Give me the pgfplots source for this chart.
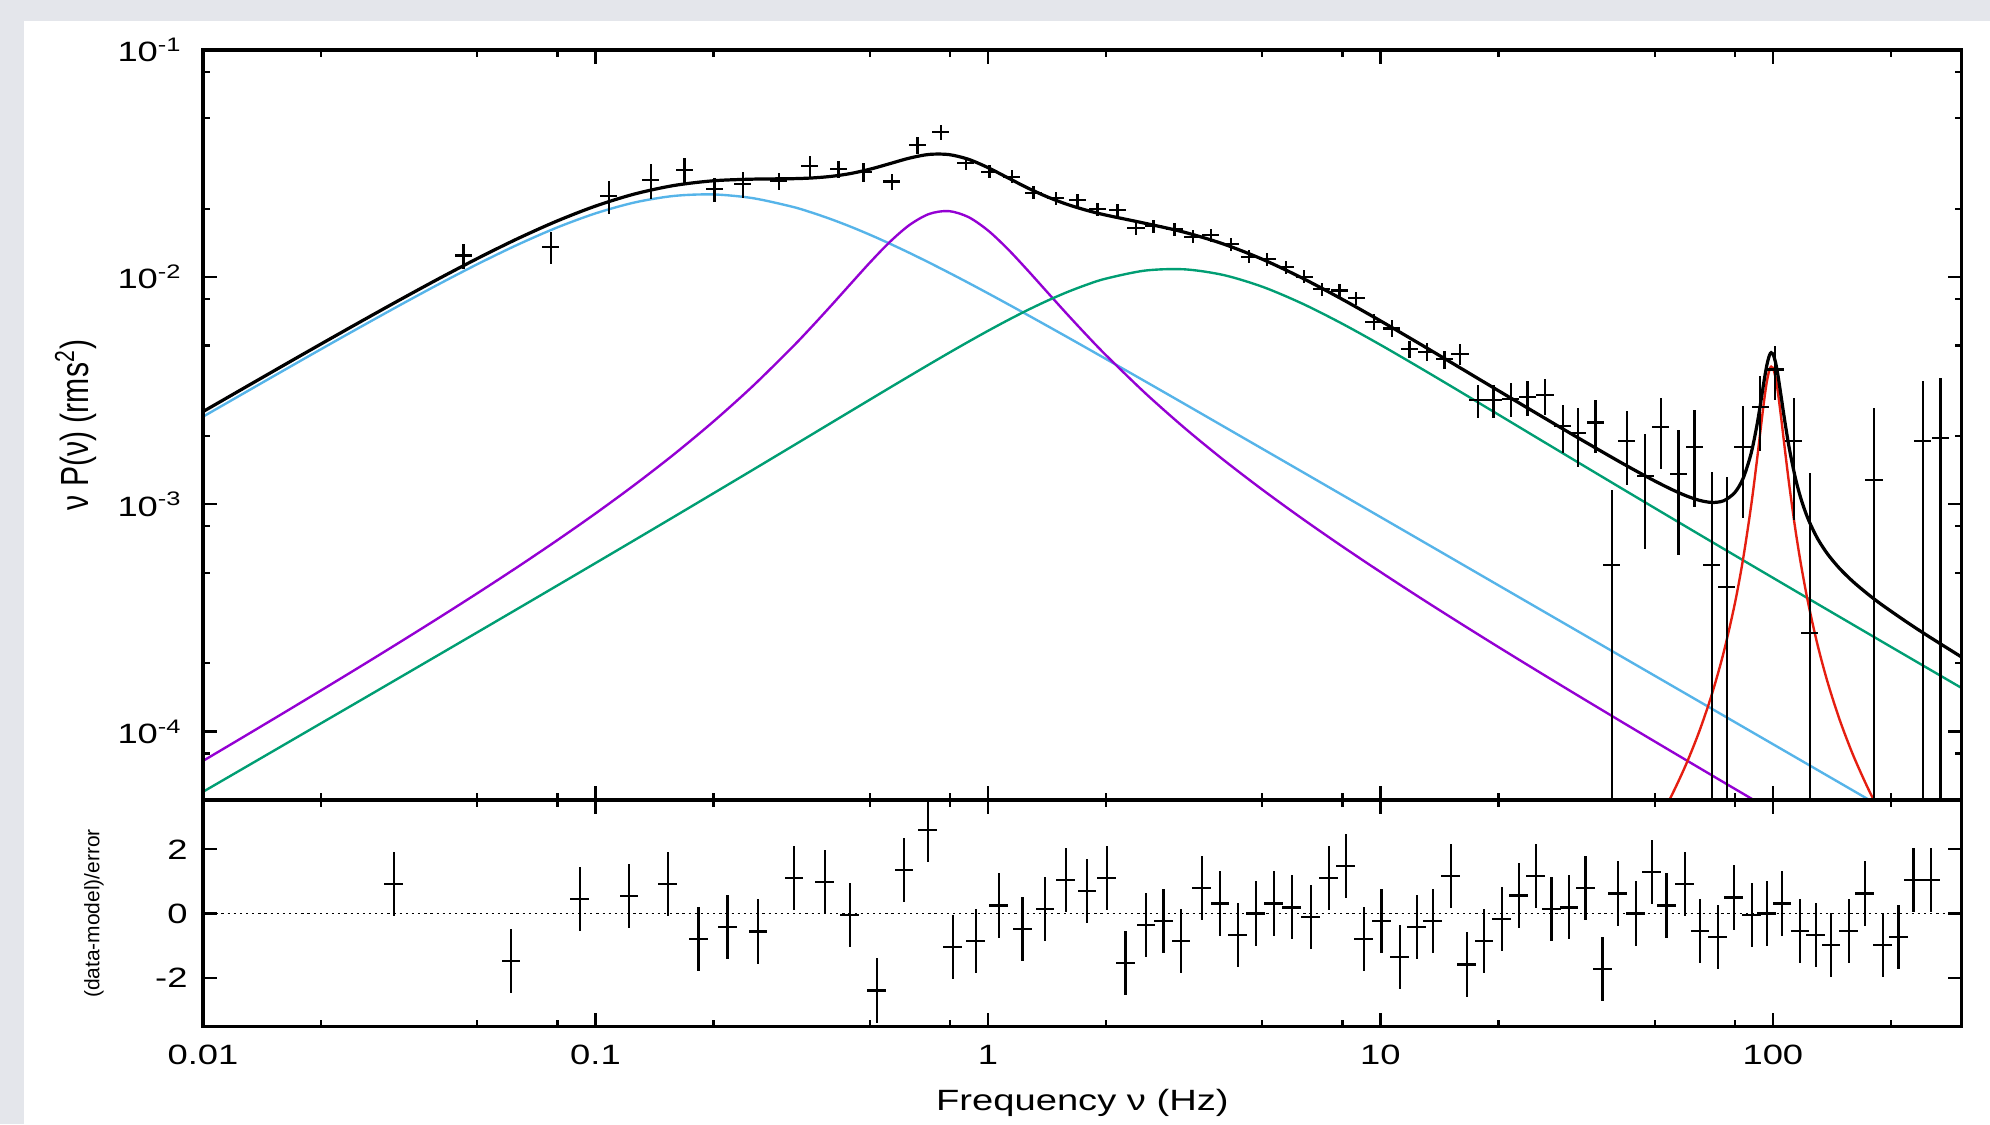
\documentclass[border=0pt]{standalone}
\usepackage{fontspec}
\setmainfont{Liberation Sans}[FakeStretch=1.3]
\newfontfamily\plainsans{Liberation Sans}
\usepackage{graphicx}
\usepackage{pgfplots}
\usepackage{pgfplotstable}
\pgfplotsset{compat=1.18}

\definecolor{pagegray}{HTML}{E4E6EB}
\definecolor{lviolet}{HTML}{9400D3}
\definecolor{lgreen}{HTML}{009E73}
\definecolor{lblue}{HTML}{56B4E9}
\definecolor{lred}{HTML}{E51E10}

% model components, nu P(nu)
\pgfplotstableread{
f        blue       violet      green
0.01     2.431e-3   7.423e-5    5.428e-5
0.012589 3.055e-3   9.399e-5    6.836e-5
0.015849 3.837e-3   1.1919e-4   8.612e-5
0.019953 4.811e-3   1.5142e-4   1.0850e-4
0.025119 6.018e-3   1.9284e-4   1.3671e-4
0.031623 7.501e-3   2.4634e-4   1.7231e-4
0.039811 9.297e-3   3.1590e-4   2.1723e-4
0.050119 0.011423   4.0709e-4   2.7397e-4
0.063096 0.013853   5.2791e-4   3.4567e-4
0.079433 0.016482   6.9009e-4   4.3636e-4
0.1      0.019089   9.1143e-4   5.512e-4
0.12589  0.021325   1.21977e-3  6.968e-4
0.15849  0.022782   1.6605e-3   8.816e-4
0.19953  0.023131   2.3104e-3   1.1165e-3
0.25119  0.022284   3.3045e-3   1.4153e-3
0.31623  0.020447   4.8866e-3   1.7960e-3
0.35481  0.019275   6.0221e-3   2.0236e-3
0.39811  0.018004   7.4804e-3   2.2804e-3
0.44668  0.016683   9.3368e-3   2.5697e-3
0.50119  0.015352   0.011633    2.8954e-3
0.56234  0.014045   0.014290    3.2612e-3
0.63096  0.012787   0.016966    3.6709e-3
0.70795  0.011595   0.018975    4.1281e-3
0.79433  0.010479   0.019540    4.6352e-3
0.89125  0.009445   0.018399    5.1937e-3
1.0      0.008493   0.016061    5.8023e-3
1.1220   0.007624   0.013331    6.4565e-3
1.2589   0.006834   0.010778    7.1470e-3
1.4125   0.006119   0.008636    7.8579e-3
1.5849   0.005474   0.006927    8.5667e-3
1.7783   0.004893   0.005590    9.2423e-3
1.9953   0.004371   0.004550    9.8477e-3
2.5119   0.003483   0.003096    0.010688
3.1623   0.002773   0.002176    0.010829
3.9811   0.002205   0.0015707   0.010221
5.0119   0.001753   0.0011577   0.009064
6.3096   0.0013934  8.672e-4    0.007664
7.9433   0.0011072  6.580e-4    0.006275
10       8.797e-4   5.041e-4    0.005037
12.589   6.990e-4   3.892e-4    0.003999
15.849   5.552e-4   3.023e-4    0.003158
19.953   4.410e-4   2.359e-4    0.0024875
25.119   3.503e-4   1.848e-4    0.0019589
31.623   2.783e-4   1.4517e-4   0.0015433
39.811   2.210e-4   1.1430e-4   0.0012170
50.119   1.756e-4   9.017e-5    9.606e-4
63.096   1.395e-4   7.123e-5    7.590e-4
79.433   1.108e-4   5.633e-5    6.002e-4
100      8.80e-5    4.459e-5    4.751e-4
125.89   6.990e-5   3.532e-5    3.7626e-4
158.49   5.552e-5   2.800e-5    2.9815e-4
199.53   4.410e-5   2.220e-5    2.3637e-4
251.19   3.503e-5   1.761e-5    1.8747e-4
303      2.904e-5   1.459e-5    1.5525e-4
}\components

% QPO near 100 Hz
\pgfplotstableread{
f      red
50     3.801e-5
55     5.162e-5
60     7.124e-5
65     1.0062e-4
70     1.4685e-4
75     2.2442e-4
80     3.6596e-4
84     5.7738e-4
88     9.825e-4
91     1.5443e-3
93     2.1199e-3
95     2.8685e-3
96.5   3.4617e-3
98     3.9116e-3
99     4.0382e-3
100    3.9914e-3
101.5  3.6411e-3
103    3.1101e-3
105    2.3934e-3
107    1.8159e-3
110    1.2281e-3
114    7.836e-4
118    5.398e-4
123    3.6805e-4
130    2.4022e-4
138    1.6384e-4
148    1.1251e-4
160    7.901e-5
175    5.591e-5
190    4.244e-5
}\qpo

% total model
\pgfplotstableread{
f        tot
0.01     2.5595e-3
0.012589 3.2174e-3
0.015849 4.0423e-3
0.019953 5.0709e-3
0.025119 6.3476e-3
0.031623 7.9197e-3
0.039811 9.8301e-3
0.050119 0.012104
0.063096 0.014727
0.079433 0.017608
0.1      0.020552
0.12589  0.023242
0.15849  0.025324
0.19953  0.026558
0.25119  0.027004
0.31623  0.027130
0.35481  0.027321
0.39811  0.027765
0.44668  0.028590
0.50119  0.029880
0.56234  0.031596
0.63096  0.033424
0.70795  0.034698
0.79433  0.034654
0.89125  0.033038
1.0      0.030356
1.1220   0.027412
1.2589   0.024759
1.4125   0.022613
1.5849   0.020968
1.7783   0.019725
1.9953   0.018769
2.5119   0.017267
3.1623   0.015778
3.9811   0.013997
5.0119   0.011975
6.3096   0.0099246
7.9433   0.0080402
10       0.0064231
12.589   0.0050903
15.849   0.0040197
19.953   0.0031703
25.119   0.0025025
31.623   0.0019796
39.811   0.0015732
45       0.0013975
50       0.0012674
55       0.0011670
60       0.0010918
65       0.0010414
70       0.0010193
75       0.0010378
80       0.0011278
84       0.0013025
88       0.0016742
91       0.0022129
93       0.0027739
95       0.0035085
96.5     0.0040916
98       0.0045318
99       0.0046520
100      0.0045991
101.5    0.0042396
103      0.0036998
105      0.0029718
107      0.0023834
110      0.0017799
114      0.0013158
118      0.0010538
123      8.610e-4
130      7.063e-4
138      6.027e-4
148      5.215e-4
160      4.570e-4
175      4.013e-4
190      3.603e-4
220      3.022e-4
251.19   2.602e-4
303      2.124e-4
}\model

% measured power spectrum: f, value, +err, -err
\pgfplotstableread{
f       v          ep        em
0.0461  0.01245    0.0016    0.0016
0.0769  0.01362    0.0022    0.0022
0.1083  0.02278    0.0038    0.0038
0.1383  0.02679    0.0047    0.0047
0.1685  0.02965    0.0037    0.0037
0.2010  0.02438    0.0030    0.0030
0.2372  0.02572    0.0033    0.0033
0.2937  0.02651    0.0023    0.0023
0.3523  0.03087    0.0032    0.0032
0.4159  0.02993    0.0025    0.0025
0.4817  0.02913    0.0028    0.0028
0.5689  0.02636    0.0021    0.0021
0.6613  0.03822    0.0032    0.0032
0.7586  0.04345    0.0034    0.0034
0.880   0.0317     0.00206   0.00206
1.009   0.02914    0.00189   0.00189
1.150   0.02770    0.00180   0.00180
1.306   0.02355    0.00153   0.00153
1.492   0.02223    0.00144   0.00144
1.691   0.02188    0.00142   0.00142
1.901   0.01991    0.00129   0.00129
2.138   0.01977    0.00129   0.00129
2.387   0.01641    0.00107   0.00107
2.642   0.01680    0.00109   0.00109
2.989   0.01625    0.00106   0.00106
3.325   0.01508    0.00098   0.00098
3.697   0.01534    0.00100   0.00100
4.157   0.01397    0.00091   0.00091
4.634   0.01231    0.00080   0.00080
5.152   0.01198    0.00078   0.00078
5.749   0.01105    0.00072   0.00072
6.40    0.01005    0.00065   0.00065
7.09    0.00885    0.00058   0.00058
7.87    0.00873    0.00057   0.00057
8.68    0.00807    0.00052   0.00052
9.64    0.00637    0.00052   0.00052
10.69   0.00595    0.00050   0.00050
11.86   0.00481    0.00042   0.00042
13.12   0.00470    0.00042   0.00042
14.56   0.00435    0.00040   0.00040
15.97   0.00459    0.00049   0.00049
17.69   0.002880   0.00048   0.00048
19.43   0.002880   0.00048   0.00048
21.53   0.002918   0.00050   0.00050
23.71   0.002958   0.00052   0.00052
26.3    0.00303    0.00055   0.00055
29.2    0.002213   0.00053   0.00053
31.9    0.002055   0.00060   0.00060
35.3    0.002291   0.00060   0.00060
38.9    0.000541   0.00061   0.000531
42.5    0.001901   0.00068   0.00068
47.3    0.001337   0.00070   0.00070
51.9    0.002183   0.00075   0.00075
57.5    0.001361   0.00076   0.00076
63.1    0.001795   0.00082   0.00082
70.0    0.000541   0.00084   0.000531
76.4    0.000434   0.00089   0.000424
84.0    0.001795   0.00092   0.00092
92.9    0.002691   0.00098   0.00098
101.4   0.003926   0.00105   0.00105
113.0   0.001901   0.00105   0.00105
124.1   0.0002704  0.00110   0.00026
181.2   0.001279   0.00137   0.001269
241.4   0.001906   0.00160   0.001896
267.3   0.001953   0.00164   0.001943
}\spectrum

% residuals (data-model)/error
\pgfplotstableread{
f      r
0.0306 0.92
0.061  -1.48
0.0914 0.44
0.122  0.55
0.153  0.92
0.183  -0.80
0.217  -0.43
0.260  -0.56
0.321  1.11
0.384  0.99
0.445  -0.05
0.521  -2.40
0.612  1.35
0.703  2.59
0.815  -1.04
0.933  -0.86
1.067  0.25
1.224  -0.49
1.40   0.14
1.58   1.05
1.79   0.69
2.01   1.11
2.24   -1.54
2.53   -0.37
2.80   -0.24
3.11   -0.86
3.51   0.80
3.91   0.31
4.34   -0.68
4.82   0.00
5.36   0.31
5.94   0.19
6.66   -0.11
7.38   1.11
8.17   1.48
9.08   -0.80
10.07  -0.24
11.2   -1.35
12.4   -0.43
13.6   -0.24
15.1   1.17
16.6   -1.59
18.4   -0.86
20.4   -0.18
22.5   0.56
24.9   1.17
27.3   0.14
30.3   0.19
33.3   0.80
36.8   -1.72
40.3   0.62
44.8   0.00
49.1   1.30
53.6   0.25
59.6   0.92
65.3   -0.55
72.4   -0.73
79.5   0.50
88.3   -0.05
96.6   0.00
105.7  0.31
117.5  -0.55
128.5  -0.68
140.9  -0.99
156.0  -0.55
171.4  0.62
190.9  -0.99
208.9  -0.73
228.2  1.05
252.5  1.05
}\resid

\begin{document}
\begin{tikzpicture}
\useasboundingbox (0,0) rectangle (712.24pt,402.29pt);
\fill[pagegray] (0,0) rectangle (712.24pt,402.29pt);
\fill[white] (8.59pt,0) rectangle (712.24pt,394.77pt);

\begin{axis}[
  at={(72.66pt,116pt)}, anchor=south west,
  scale only axis, width=629.5pt, height=268.4pt,
  xmode=log, ymode=log,
  xmin=0.01, xmax=303, ymin=5e-5, ymax=0.1,
  xtick={0.01,0.1,1,10,100}, xticklabels={},
  minor xtick={0.02,0.05,0.08,0.2,0.5,0.8,2,5,8,20,50,80,200},
  ytick={1e-4,1e-3,1e-2,1e-1},
  yticklabels={10\textsuperscript{-4},10\textsuperscript{-3},10\textsuperscript{-2},10\textsuperscript{-1}},
  minor ytick={8e-5,2e-4,5e-4,8e-4,2e-3,5e-3,8e-3,2e-2,5e-2,8e-2},
  tick align=inside, tick pos=both,
  major tick length=5pt, minor tick length=2.6pt,
  tick style={black, line width=0.8pt},
  axis line style={line width=1.1pt},
  tick label style={font=\fontsize{10}{12}\selectfont},
  yticklabel style={xshift=-4pt},
  axis on top,
  ylabel={\plainsans\fontsize{10.8}{13}\selectfont\scalebox{1}[1.3]{ν P(ν) (rms\textsuperscript{2})}},
  ylabel style={at={(axis description cs:-0.0723,0.5)}, anchor=center},
]
\addplot[lblue, line width=0.85pt, smooth] table[x=f, y=blue] {\components};
\addplot[lviolet, line width=0.85pt, smooth] table[x=f, y=violet] {\components};
\addplot[lgreen, line width=0.85pt, smooth] table[x=f, y=green] {\components};
\addplot[lred, line width=0.85pt, smooth] table[x=f, y=red] {\qpo};
\addplot[black, line width=1.15pt, smooth] table[x=f, y=tot] {\model};
\addplot[black, only marks, mark=*, mark size=0pt, mark options={draw=none, fill=none},
  error bars/.cd, x dir=both, x fixed relative=0.05, y dir=both, y explicit,
  error mark=none, error bar style={line width=0.8pt, black}]
  table[x=f, y=v, y error plus=ep, y error minus=em] {\spectrum};
\end{axis}

\begin{axis}[
  at={(72.66pt,34.8pt)}, anchor=south west,
  scale only axis, width=629.5pt, height=81.1pt,
  xmode=log,
  xmin=0.01, xmax=303, ymin=-3.53, ymax=3.53,
  xtick={0.01,0.1,1,10,100}, xticklabels={0.01,0.1,1,10,100},
  minor xtick={0.02,0.05,0.08,0.2,0.5,0.8,2,5,8,20,50,80,200},
  ytick={-2,0,2}, yticklabels={-2,0,2},
  tick align=inside, tick pos=both,
  major tick length=5pt, minor tick length=2.6pt,
  tick style={black, line width=0.8pt},
  axis line style={line width=1.1pt},
  tick label style={font=\fontsize{10}{12}\selectfont},
  xticklabel style={yshift=-3pt},
  yticklabel style={xshift=-2pt},
  axis on top,
  xlabel={\fontsize{10.5}{12.6}\selectfont Frequency ν (Hz)},
  xlabel style={yshift=-2pt},
  ylabel={\plainsans\fontsize{7.5}{9}\selectfont (data-model)/error},
  ylabel style={at={(axis description cs:-0.062,0.5)}, anchor=center},
]
\addplot[black, line width=0.65pt, dash pattern=on 0.8pt off 1.4pt] coordinates {(0.01,0) (303,0)};
\addplot[black, only marks, mark=*, mark size=0pt, mark options={draw=none, fill=none},
  error bars/.cd, x dir=both, x fixed relative=0.055, y dir=both, y fixed=1,
  error mark=none, error bar style={line width=0.8pt, black}]
  table[x=f, y=r] {\resid};
\end{axis}
\end{tikzpicture}
\end{document}
